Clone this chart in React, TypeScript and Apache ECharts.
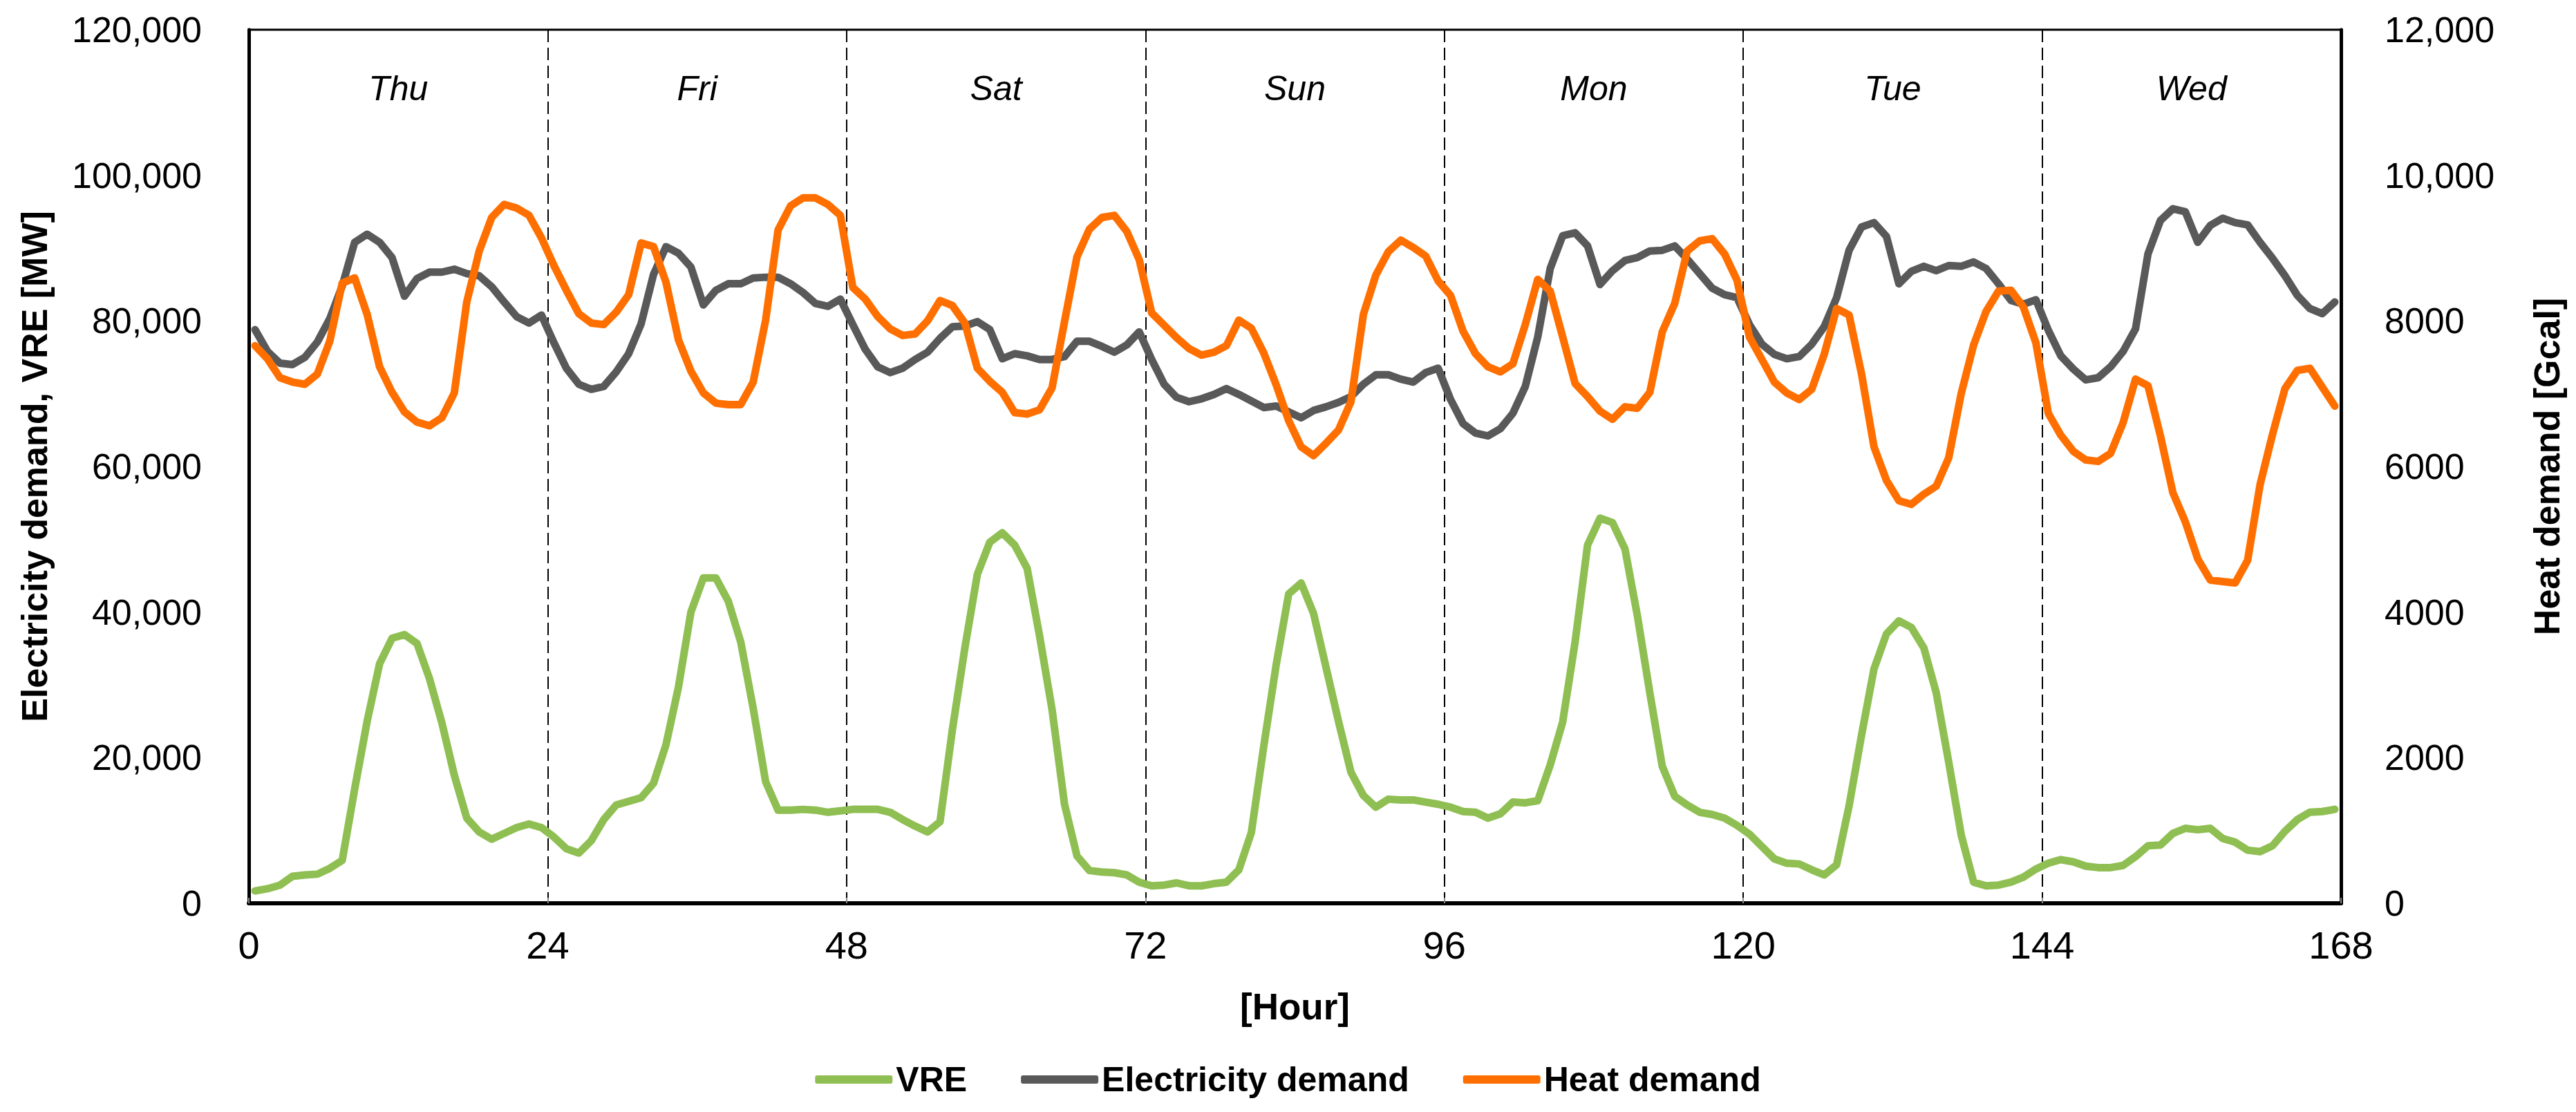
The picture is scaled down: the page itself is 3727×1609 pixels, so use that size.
import { useEffect, useRef } from 'react'
import * as echarts from 'echarts'

const FONT = '"Liberation Sans", Arial, sans-serif'

// 요일 라벨 (24시간 구간마다 하나)
const DAYS = ['Thu', 'Fri', 'Sat', 'Sun', 'Mon', 'Tue', 'Wed']

// VRE 출력 [MW], 시간별 (0.5, 1.5, ... 167.5)
const VRE = [
  1700, 2000, 2500, 3700, 3900, 4000, 4800, 5900, 15700, 25000, 32900, 36400,
  36900, 35700, 30900, 24800, 17600, 11700, 9800, 8800, 9600, 10400, 10900, 10400,
  9100, 7500, 6900, 8600, 11500, 13500, 14000, 14500, 16500, 21800, 29700, 40000,
  44700, 44700, 41500, 35900, 26800, 16700, 12800, 12800, 12900, 12800, 12500, 12700,
  12900, 12900, 12900, 12500, 11500, 10600, 9800, 11200, 23900, 35100, 45200, 49600,
  50900, 49200, 46000, 36700, 26600, 13600, 6500, 4500, 4300, 4200, 3900, 2900,
  2400, 2500, 2800, 2400, 2400, 2700, 2900, 4600, 9700, 21600, 32800, 42500,
  44000, 39800, 32400, 25000, 18000, 14800, 13200, 14300, 14200, 14200, 13900, 13600,
  13200, 12600, 12500, 11700, 12300, 13900, 13800, 14100, 19000, 24900, 35900, 49200,
  52900, 52300, 48700, 39500, 28900, 18800, 14700, 13500, 12500, 12200, 11700, 10700,
  9500, 7800, 6100, 5500, 5400, 4600, 3900, 5300, 13400, 23100, 32200, 37000,
  38800, 37900, 35100, 28900, 19400, 9400, 2900, 2400, 2500, 2900, 3600, 4700,
  5500, 6000, 5700, 5100, 4900, 4900, 5200, 6400, 7900, 8000, 9600, 10300,
  10100, 10300, 8900, 8400, 7300, 7100, 7900, 9900, 11500, 12500, 12600, 12900,
]

// 전력 수요 [MW]
const ELEC = [
  78800, 75800, 74200, 74000, 75000, 77100, 80300, 84800, 90800, 91900, 90800, 88700,
  83400, 85800, 86700, 86700, 87100, 86500, 86200, 84700, 82600, 80600, 79700, 80800,
  77000, 73500, 71300, 70600, 71000, 73000, 75500, 79600, 86400, 90200, 89300, 87400,
  82200, 84200, 85100, 85100, 85900, 86000, 86000, 85100, 83900, 82400, 82000, 83000,
  79500, 76100, 73700, 72900, 73500, 74700, 75700, 77600, 79200, 79300, 79900, 78800,
  74800, 75500, 75200, 74700, 74700, 75100, 77200, 77200, 76500, 75700, 76700, 78500,
  74700, 71300, 69500, 68900, 69300, 69900, 70700, 69900, 69000, 68100, 68300, 67500,
  66700, 67700, 68200, 68800, 69600, 71300, 72600, 72600, 72000, 71600, 72900, 73500,
  69200, 65900, 64600, 64200, 65200, 67300, 71000, 77800, 87200, 91700, 92100, 90300,
  85000, 86900, 88300, 88700, 89600, 89700, 90300, 88500, 86500, 84500, 83600, 83200,
  79500, 76800, 75400, 74800, 75100, 76800, 79200, 83200, 89700, 92900, 93500, 91600,
  85100, 86800, 87500, 86900, 87600, 87500, 88100, 87200, 85100, 82800, 82300, 82900,
  78700, 75200, 73400, 71900, 72200, 73700, 75800, 78900, 89200, 93800, 95400, 95000,
  90800, 93100, 94100, 93500, 93200, 90800, 88600, 86200, 83500, 81700, 81000, 82600,
]

// 열 수요 [Gcal]
const HEAT = [
  7660, 7480, 7220, 7160, 7130, 7270, 7720, 8520, 8590, 8090, 7370, 7020,
  6750, 6610, 6560, 6670, 7010, 8260, 8960, 9420, 9600, 9550, 9450, 9140,
  8760, 8420, 8100, 7970, 7950, 8120, 8360, 9070, 9020, 8530, 7740, 7310,
  7010, 6870, 6850, 6850, 7160, 8010, 9250, 9580, 9690, 9690, 9600, 9450,
  8460, 8300, 8060, 7890, 7800, 7820, 8000, 8280, 8210, 7970, 7350, 7170,
  7020, 6740, 6720, 6780, 7080, 7990, 8880, 9260, 9420, 9450, 9230, 8840,
  8110, 7940, 7770, 7620, 7530, 7570, 7660, 8010, 7900, 7560, 7120, 6630,
  6270, 6150, 6320, 6500, 6890, 8090, 8630, 8950, 9110, 9010, 8890, 8550,
  8350, 7860, 7550, 7370, 7300, 7410, 7950, 8570, 8410, 7780, 7140, 6960,
  6760, 6650, 6820, 6800, 7020, 7850, 8240, 8960, 9100, 9130, 8920, 8560,
  7780, 7470, 7160, 7010, 6920, 7060, 7540, 8170, 8080, 7270, 6270, 5810,
  5530, 5480, 5620, 5730, 6120, 7000, 7670, 8130, 8410, 8420, 8190, 7700,
  6730, 6430, 6210, 6090, 6070, 6180, 6600, 7200, 7110, 6420, 5640, 5240,
  4730, 4440, 4420, 4400, 4710, 5750, 6440, 7070, 7320, 7350, 7090, 6830,
]

const SERIES = [
  { name: 'VRE', data: VRE, color: '#8fbf52', yAxisIndex: 0 },
  { name: 'Electricity demand', data: ELEC, color: '#595959', yAxisIndex: 0 },
  { name: 'Heat demand', data: HEAT, color: '#ff6f00', yAxisIndex: 1 },
]

// 각 점은 시간 구간의 중앙 (h + 0.5)
const toPoints = (vals: number[]) => vals.map((v, i) => [i + 0.5, v])

export default function App() {
  const elRef = useRef<HTMLDivElement>(null)

  useEffect(() => {
    document.body.style.margin = '0'
    if (!elRef.current) return
    const chart = echarts.init(elRef.current, undefined, { renderer: 'svg' })
    const black = '#000'
    chart.setOption({
      animation: false,
      textStyle: { fontFamily: FONT },
      grid: {
        left: 360, right: 340, top: 43, bottom: 302,
        show: true, borderColor: black, borderWidth: 3,
      },
      legend: {
        top: 1532,
        left: 'center',
        icon: 'roundRect',
        itemWidth: 112,
        itemHeight: 12,
        itemGap: 78,
        textStyle: { fontSize: 50, fontWeight: 'bold', color: black, fontFamily: FONT },
        data: SERIES.map((s) => s.name),
      },
      xAxis: [
        {
          type: 'value',
          min: 0,
          max: 168,
          interval: 24,
          axisLine: { lineStyle: { color: black, width: 6 } },
          axisTick: { inside: true, length: 8, lineStyle: { color: '#888', width: 2 } },
          axisLabel: { fontSize: 56, color: black, margin: 32 },
          splitLine: { show: true, lineStyle: { color: black, width: 2, type: [18, 8] } },
          name: '[Hour]',
          nameLocation: 'middle',
          nameGap: 123,
          nameTextStyle: { fontSize: 53, fontWeight: 'bold', color: black },
        },
        {
          type: 'category',
          data: DAYS,
          position: 'top',
          boundaryGap: true,
          axisLine: { show: false },
          axisTick: { show: false },
          splitLine: { show: false },
          axisLabel: { inside: true, margin: 60, fontSize: 50, fontStyle: 'italic', color: black },
        },
      ],
      yAxis: [
        {
          type: 'value',
          min: 0,
          max: 120000,
          interval: 20000,
          axisLine: { show: true, lineStyle: { color: black, width: 5 } },
          axisTick: { show: false },
          splitLine: { show: false },
          axisLabel: {
            fontSize: 52, color: black, margin: 68,
            formatter: (v: number) => v.toLocaleString('en-US'),
          },
          name: 'Electricity demand, VRE [MW]',
          nameLocation: 'middle',
          nameRotate: 90,
          nameGap: 284,
          nameTextStyle: { fontSize: 52, fontWeight: 'bold', color: black },
        },
        {
          type: 'value',
          position: 'right',
          min: 0,
          max: 12000,
          interval: 2000,
          axisLine: { show: true, lineStyle: { color: black, width: 5 } },
          axisTick: { show: false },
          splitLine: { show: false },
          axisLabel: {
            fontSize: 52, color: black, margin: 63,
            formatter: (v: number) => (v >= 10000 ? v.toLocaleString('en-US') : String(v)),
          },
          name: 'Heat demand [Gcal]',
          nameLocation: 'middle',
          nameRotate: 90,
          nameGap: 272,
          nameTextStyle: { fontSize: 52, fontWeight: 'bold', color: black },
        },
      ],
      series: SERIES.map((s) => ({
        type: 'line',
        name: s.name,
        xAxisIndex: 0,
        yAxisIndex: s.yAxisIndex,
        data: toPoints(s.data),
        symbol: 'none',
        color: s.color,
        lineStyle: { width: 11, color: s.color, cap: 'round', join: 'round' },
      })),
    })
    return () => chart.dispose()
  }, [])

  return <div ref={elRef} style={{ width: 3727, height: 1609 }} />
}
